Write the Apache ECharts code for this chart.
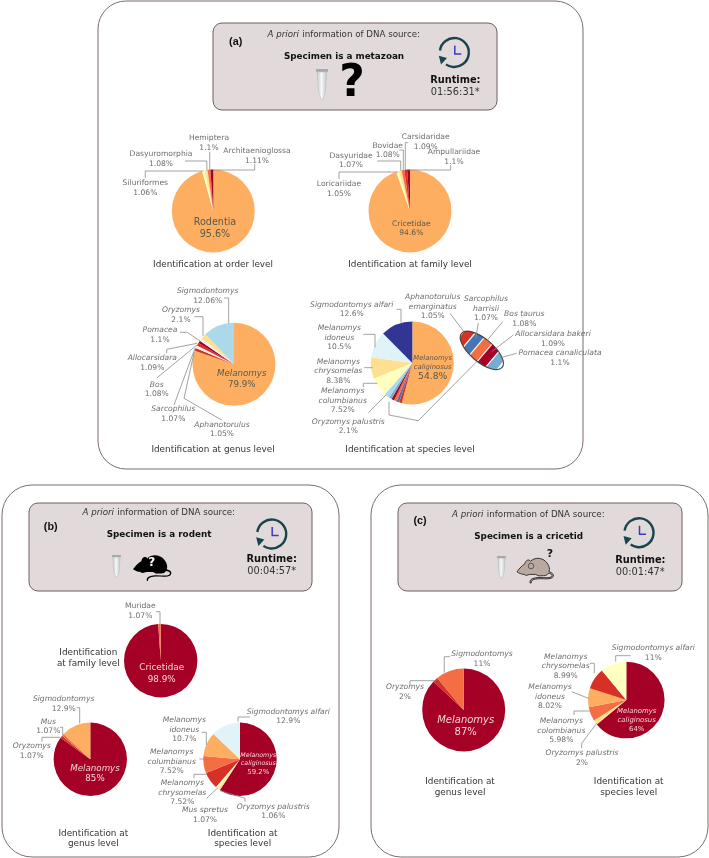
<!DOCTYPE html>
<html><head><meta charset="utf-8">
<style>html,body{margin:0;padding:0;background:#fff}#c{width:709px;height:858px}</style>
<script src="https://cdn.jsdelivr.net/npm/echarts@6/dist/echarts.min.js"></script>
</head><body><div id="c"></div>
<script>
// ---------- DATA ----------
const R='#A50026',D='#D73027',O='#F46D43',A='#FDAE61',Y='#FEE090',P='#FFFFBF',L='#ABD9E9',I='#E0F3F8',N='#313695',B='#4575B4',S='#74ADD1',W='#F6EFEF';
const orderNames=['Rodentia','Siluriformes','Dasyuromorphia','Hemiptera','Architaenioglossa'];
const orderValues=[95.6,1.06,1.08,1.1,1.11];
const orderColors=[A,P,Y,O,R];
const familyNames=['Cricetidae','Loricariidae','Dasyuridae','Bovidae','Carsidaridae','Ampullariidae'];
const familyValues=[94.6,1.05,1.07,1.08,1.09,1.1];
const familyColors=[A,P,Y,O,D,R];
const genusNames=['Melanomys','Aphanotorulus','Sarcophilus','Bos','Allocarsidara','Pomacea','Oryzomys','Sigmodontomys'];
const genusValues=[79.9,1.05,1.07,1.08,1.09,1.1,2.1,12.06];
const genusColors=[A,D,W,D,R,W,Y,L];
const speciesNames=['Melanomys\ncaliginosus','Aphanotorulus\nemarginatus','Sarcophilus\nharrisii','Bos taurus','Allocarsidara bakeri','Pomacea canaliculata','Oryzomys palustris','Melanomys\ncolumbianus','Melanomys\nchrysomelas','Melanomys\nidoneus','Sigmodontomys alfari'];
const speciesValues=[54.8,1.05,1.07,1.08,1.09,1.1,2.1,7.52,8.38,10.5,12.6];
const speciesColors=[A,D,B,O,R,S,L,P,Y,I,N];
const bFamilyNames=['Cricetidae','Muridae'];
const bFamilyValues=[98.9,1.07];
const bFamilyColors=[R,O];
const bGenusNames=['Melanomys','Oryzomys','Mus','Sigmodontomys'];
const bGenusValues=[85,1.07,1.07,12.9];
const bGenusColors=[R,D,O,A];
const bSpeciesNames=['Melanomys\ncaliginosus','Oryzomys palustris','Mus spretus','Melanomys\nchrysomelas','Melanomys\ncolumbianus','Melanomys\nidoneus','Sigmodontomys alfari'];
const bSpeciesValues=[59.2,1.06,1.07,7.52,7.52,10.7,12.9];
const bSpeciesColors=[R,Y,P,D,O,A,I];
const cGenusNames=['Melanomys','Oryzomys','Sigmodontomys'];
const cGenusValues=[87,2,11];
const cGenusColors=[R,D,O];
const cSpeciesNames=['Melanomys\ncaliginosus','Oryzomys palustris','Melanomys\ncolombianus','Melanomys\nidoneus','Melanomys\nchrysomelas','Sigmodontomys alfari'];
const cSpeciesValues=[64,2,5.98,8.02,8.99,11];
const cSpeciesColors=[R,Y,O,A,D,P];
const headers=[
 {tag:'(a)',title:'Specimen is a metazoan',time:'01:56:31*'},
 {tag:'(b)',title:'Specimen is a rodent',time:'00:04:57*'},
 {tag:'(c)',title:'Specimen is a cricetid',time:'00:01:47*'}];
const prior='information of DNA source:';
const titles=[
 ['Identification at order level'],['Identification at family level'],['Identification at genus level'],['Identification at species level'],
 ['Identification','at family level'],['Identification at','genus level'],['Identification at','species level'],['Identification at','genus level'],['Identification at','species level']];

// ---------- LAYOUT ----------
const FONT='"DejaVu Sans"';
const G='#6b6b6b', LINE='#8a8a8a';
const el=[];
const text=(x,y,s,o={})=>el.push({type:'text',x,y,z:o.z??10,silent:true,style:{text:s,fill:o.color||G,align:o.align||'center',verticalAlign:'middle',
  font:`${o.italic?'italic ':''}${o.bold?'bold ':''}${o.size||7.6}px ${o.family||FONT}`}});
const label=(x,y,name,val,o={})=>{
  const lines=name.split('\n'),lh=o.lh||9.6;
  lines.forEach((l,i)=>text(x,y+i*lh,l,{italic:o.italic,size:o.size||7.6,color:o.color}));
  text(x,y+lines.length*(o.lhp||lh),val+'%',{size:o.psize||o.size||7.6,color:o.color});
};
const poly=(pts,c)=>el.push({type:'polyline',z:10,silent:true,shape:{points:pts},style:{stroke:c||LINE,lineWidth:.8,fill:null}});

const pies=[
 {n:orderNames,v:orderValues,c:orderColors,cx:213.3,cy:211,r:41.5,it:false,
  main:[215,222,{size:9.6,psize:9.6,lh:12,color:'#5a5a4a'}],
  pos:[[145.3,183.3],[161,154.3],[209,138],[257,151]],
  lead:[[[145.3,178],[145.3,171],[203.5,171]],[[185,161],[206.7,161],[207,170.7]],[[209.7,152],[209.7,170]],[[254.7,164],[254.7,170],[213,170]]]},
 {n:familyNames,v:familyValues,c:familyColors,cx:410,cy:211,r:41.5,it:false,
  main:[411.3,223.7,{size:7.6,lh:9.5,color:'#5a5a4a'}],
  pos:[[339,184.3],[351,155.7],[387.7,145.7],[425.7,137],[454,152.3]],
  lead:[[[339,179],[339,172],[398.3,172]],[[377.3,161],[400.7,161],[400.7,170.7]],[[399.3,150],[403.3,150],[403.3,170.7]],[[408.3,142.7],[405.3,142.7],[405.3,170]],[[450.7,165],[450.7,170],[408.3,170]]]},
 {n:genusNames,v:genusValues,c:genusColors,cx:234,cy:364.3,r:41.5,it:true,
  main:[241.7,373.7,{size:8.7,lh:10.7,color:'#5a5a4a'}],
  pos:[[222,424.7],[173.3,409],[156.7,384.7],[152.3,358.3],[160,330.3],[181,310],[207.7,291.3]],
  lead:[[[221.7,420],[184,398.3],[194.3,351.7]],[[174,405],[195,348.3]],[[156.7,378],[197,345]],[[166.7,353.3],[166.7,349.3],[197.3,343.3]],[[180,332.3],[187.3,332.3],[200,341]],[[194.3,316.7],[203,316.7],[203,336]],[[224,298],[228.7,298],[228.7,323.3]]]},
 {n:speciesNames,v:speciesValues,c:speciesColors,cx:412.3,cy:363,r:41.5,it:true,
  main:[432.7,358.3,{size:6.8,psize:9.2,lh:8.7,lhp:9,color:'#5a5a4a'}],
  pos:[[432.7,297.3],[486,299],[524.3,314.3],[553,334],[560,353.3],[348.3,421.7],[342.7,391],[338.3,361.7],[339.3,328.3],[351.7,304.7]],
  lead:[[[450,313.3],[464,331.7]],[[478.3,323.3],[475.7,338.3]],[[502.7,321.7],[483.3,345]],[[513.3,335],[491.7,351.7]],[[516.7,353.3],[501.7,357.3]],[[368.3,412.7],[386,395]],[[363.3,387.3],[363.3,383.3],[377.3,383.3]],[[364,367.7],[372.7,367.7]],[[363.3,334.3],[375,334.3],[375,347.3]],[[396.7,309.3],[401,309.3],[401,322.7]],[[389,401.7],[389,415],[418.3,420.7],[476.7,361.7]]]},
 {n:bFamilyNames,v:bFamilyValues,c:bFamilyColors,cx:160.7,cy:660.7,r:36.7,it:false,
  main:[161.7,667.3,{size:8.8,lh:12,color:'#F6D5D8'}],
  pos:[[140.3,606]],lead:[[[156,611.7],[160,611.7],[160,624]]]},
 {n:bGenusNames,v:bGenusValues,c:bGenusColors,cx:90.3,cy:759.3,r:36.7,it:true,
  main:[95,768.3,{size:8.7,lh:10.7,color:'#F6D5D8'}],
  pos:[[31.7,746],[48.3,721.7],[63.7,699.3]],
  lead:[[[42,741.7],[42,737.3],[60,737.3]],[[60,727.3],[62.7,727.3],[62.7,735]],[[76.7,707.7],[79.7,707.7],[79.7,723.3]]]},
 {n:bSpeciesNames,v:bSpeciesValues,c:bSpeciesColors,cx:240,cy:759.3,r:36.7,it:true,
  main:[258.3,755.3,{size:6.3,psize:6.9,lh:8.4,color:'#F6D5D8'}],
  pos:[[273.3,806.7],[205,810.3],[182.3,783.3],[171.7,752],[184.3,720],[288.3,711.7]],
  lead:[[[245,801.7],[245,798.3],[220,790.7]],[[206.7,798.3],[218.3,787.3]],[[194,778.3],[194,774.3],[206.7,774.3]],[[199.3,759],[205,759]],[[201.7,732.3],[206.3,732.3],[206.3,745]],[[250,717],[238,717],[238,721.7]]]},
 {n:cGenusNames,v:cGenusValues,c:cGenusColors,cx:463.7,cy:710,r:41.5,it:true,
  main:[465.7,720,{size:10,lh:12.3,color:'#F6D5D8'}],
  pos:[[405,687.3],[482,654]],
  lead:[[[410,685],[410,680.7],[436,680.7]],[[450,656.7],[444.3,656.7],[444.3,672.7]]]},
 {n:cSpeciesNames,v:cSpeciesValues,c:cSpeciesColors,cx:626.3,cy:700,r:38.3,it:true,
  main:[636.7,711.7,{size:6.9,lh:8.9,color:'#F6D5D8'}],
  pos:[[582,753],[561.3,721],[550,687],[565.7,656.7],[653.3,648.3]],
  lead:[[[581.7,748.3],[581.7,743.3],[596.7,723.3]],[[574,715],[574,711],[590,711]],[[571.7,691.7],[588.3,698.3]],[[590,663.3],[594.3,663.3],[594.3,673.3]],[[630.7,655.7],[615.7,655.7],[615.7,661.7]]]}
];
const titlePos=[[213,265],[410,264.5],[213,450],[410,450],[88.3,653],[93.3,833.3],[242.7,833.3],[460,782],[628.7,782]];
const panels=[[98,1,485,468,28],[2,485,337,372,30],[371,485,337,372,30]];
const boxes=[
 {x:213,y:23,w:284,h:87,tagX:235.7,tagY:42.3,pX:343.7,pY:34.7,tX:344,tY:56.7,cX:454.3,cY:52.5,rX:455.3,rY:80,tmY:92},
 {x:29,y:503,w:283,h:88,tagX:50.7,tagY:526.7,pX:158.7,pY:513,tX:159,tY:535,cX:271.7,cY:534,rX:271.7,rY:559,tmY:571},
 {x:398,y:503,w:284,h:88,tagX:420,tagY:521.3,pX:528.3,pY:515,tX:528.7,tY:537,cX:639,cY:532.7,rX:640.3,rY:560.3,tmY:572.7}];

// panels & header boxes
panels.forEach(p=>el.push({type:'rect',z:0,silent:true,shape:{x:p[0],y:p[1],width:p[2],height:p[3],r:p[4]},style:{fill:'#fff',stroke:'#7d6d6d',lineWidth:1}}));
const clock=(cx,cy)=>{
  const deg=Math.PI/180,r=14.5;
  el.push({type:'arc',z:5,silent:true,shape:{cx,cy,r,startAngle:188*deg,endAngle:485*deg,clockwise:true},style:{stroke:'#17444f',lineWidth:2.4,fill:null}});
  el.push({type:'polygon',z:5,silent:true,shape:{points:[[cx-15.5,cy+3.3],[cx-7.3,cy+5.5],[cx-13.3,cy+12]]},style:{fill:'#17444f'}});
  poly([[cx+.5,cy-7],[cx+.5,cy+1.5],[cx+7,cy+1.5]],'#3b3bc4');
  el[el.length-1].style.lineWidth=1.5;
};
const tube=(x,y,w,h)=>{
  el.push({type:'polygon',z:5,silent:true,shape:{points:[[x+.1*w,y+.1*h],[x+.9*w,y+.1*h],[x+.8*w,y+.72*h],[x+.6*w,y+h],[x+.4*w,y+h],[x+.2*w,y+.72*h]]},
    style:{fill:{type:'linear',x:0,y:0,x2:1,y2:0,colorStops:[{offset:0,color:'#c3c9cc'},{offset:.45,color:'#f7f8f8'},{offset:1,color:'#bcc3c6'}]},stroke:'#b4bbbe',lineWidth:.5}});
  el.push({type:'rect',z:5,silent:true,shape:{x,y,width:w,height:.09*h,r:.5},style:{fill:'#a2aaac'}});
};
const MOUSE='M0 37C8 26 15 20 22 16C24 5 34 2 38 9C48 -2 72 -3 84 13C91 22 93 30 90 37C100 39 106 46 100 52C90 60 62 52 46 58C41 60 39 63 40 67L37 67C35 61 38 57 45 55C62 48 88 57 97 50C101 46 97 42 88 41C86 44 84 46 80 47C72 48 68 47 62 48C58 48 56 44 52 44L36 44C30 46 24 48 20 44C14 44 6 41 0 37Z';
echarts.graphic.registerShape('mouseShape',echarts.graphic.extendPath(MOUSE,{}));
const mouse=(x,y,w,h,fill,stroke)=>el.push({type:'group',x,y,scaleX:w/104,scaleY:h/67,z:5,silent:true,children:[{type:'mouseShape',z:5,silent:true,shape:{},style:{fill,stroke,lineWidth:stroke==='none'?0:2.4}}]});

boxes.forEach((b,i)=>{
  const h=headers[i];
  el.push({type:'rect',z:1,silent:true,shape:{x:b.x,y:b.y,width:b.w,height:b.h,r:9},style:{fill:'#E2DADA',stroke:'#6e5e5e',lineWidth:1}});
  text(b.tagX,b.tagY,h.tag,{bold:true,size:10.8,color:'#111',family:'"Liberation Sans"'});
  el.push({type:'text',x:b.pX,y:b.pY,z:10,silent:true,style:{text:'{i|A priori} {n|'+prior+'}',align:'center',verticalAlign:'middle',
    rich:{i:{font:'italic 8.7px '+FONT,fill:'#333'},n:{font:'8.7px '+FONT,fill:'#333'}}}});
  text(b.tX,b.tY,h.title,{bold:true,size:8.8,color:'#111'});
  clock(b.cX,b.cY);
  text(b.rX,b.rY,'Runtime:',{bold:true,size:9.8,color:'#111'});
  text(b.rX,b.tmY,h.time,{size:9.8,color:'#333'});
});
tube(316,69,12,30); tube(112,555,9,22); tube(497,556,9,22);
text(352,85,'?',{bold:true,size:44,color:'#000'});
mouse(133,555,39,26,'#000','none');
text(151.7,563.3,'?',{bold:true,size:12,color:'#fff'});
mouse(517,558,37,25,'#B9A99E','#222');
el.push({type:'circle',z:6,silent:true,shape:{cx:531,cy:566,r:2.8},style:{fill:'#B9A99E',stroke:'#333',lineWidth:.7}});
text(550,554,'?',{bold:true,size:11,color:'#111'});

// texts and leader lines of each pie
pies.forEach(p=>{
  const m=p.main;
  label(m[0],m[1],p.n[0],p.v[0],{italic:p.it,...m[2]});
  p.pos.forEach((q,i)=>label(q[0],q[1],p.n[i+1],p.v[i+1],{italic:p.it,color:'#6e6e6e'}));
  p.lead.forEach(l=>poly(l));
});
titles.forEach((t,i)=>t.forEach((l,j)=>text(titlePos[i][0],titlePos[i][1]+j*10.8,l,{size:8.85,color:'#333'})));

// inset: the five smallest species slices, widths follow the values
(function(){
  const a=26.5,b=11.5,cx=481.8,cy=350.4,rot=-40*Math.PI/180;
  const smallV=speciesValues.slice(1,6),smallC=speciesColors.slice(1,6);
  const tot=smallV.reduce((s,v)=>s+v,0),span=50,gap=1.2;
  let x=-26,kids=[];
  smallV.forEach((v,i)=>{
    const wd=v/tot*span,x0=x+gap/2,x1=x+wd-gap/2,top=[],bot=[];
    for(let k=0;k<=8;k++){const u=x0+(x1-x0)*k/8,yy=b*Math.sqrt(Math.max(0,1-u*u/(a*a)));top.push([u,-yy]);bot.unshift([u,yy]);}
    kids.push({type:'polygon',shape:{points:top.concat(bot)},style:{fill:smallC[i]}});
    x+=wd;
  });
  kids.push({type:'ellipse',shape:{cx:0,cy:0,rx:a,ry:b},style:{fill:null,stroke:'#444',lineWidth:1.1}});
  el.push({type:'group',x:cx,y:cy,rotation:rot,z:8,silent:true,children:kids.map(k=>({...k,z:8,silent:true}))});
})();

const chart=echarts.init(document.getElementById('c'),null,{renderer:'canvas'});
chart.setOption({
  animation:false,
  backgroundColor:'#fff',
  graphic:{elements:el},
  series:pies.map(p=>({type:'pie',center:[p.cx,p.cy],radius:[0,p.r],startAngle:90,clockwise:true,silent:true,z:4,
    avoidLabelOverlap:false,label:{show:false},labelLine:{show:false},
    data:p.n.map((nm,i)=>({name:nm,value:p.v[i],itemStyle:{color:p.c[i]}}))}))
});
</script></body></html>
